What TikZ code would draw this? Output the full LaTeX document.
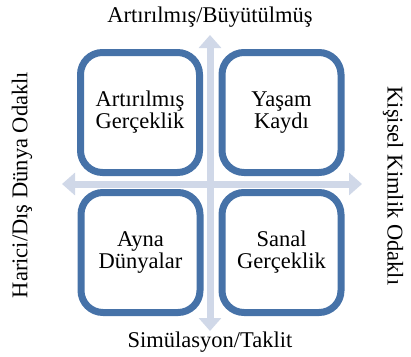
\documentclass[tikz,border=0pt]{standalone}
\usepackage{fontspec}
\setmainfont{Liberation Serif}
\usetikzlibrary{arrows.meta,shadows}
\definecolor{kutu}{RGB}{70,114,168}
\definecolor{eksen}{RGB}{208,216,232}

\begin{document}
\begin{tikzpicture}[x=1pt,y=-1pt,font=\fontsize{22.5}{22}\selectfont,
  quad/.style={draw=kutu,fill=white,line width=7pt,rounded corners=22pt,
    minimum width=119pt,minimum height=120pt,align=center,
    drop shadow={opacity=0.25,shadow xshift=1.5pt,shadow yshift=-1.5pt}},
  axis/.style={draw=eksen,line width=7pt,
    {Triangle[length=13pt,width=22pt]}-{Triangle[length=13pt,width=22pt]}}]
  \useasboundingbox (0,0) rectangle (411,356);
  % axes
  \coordinate (top) at (210,35);
  \coordinate (bot) at (210,331);
  \coordinate (lft) at (62,184);
  \coordinate (rgt) at (362,184);
  \draw[axis] (top)--(bot);
  \draw[axis] (lft)--(rgt);
  % quadrants
  \node[quad] (ag) at (140,112.5) {Artırılmış\\Gerçeklik};
  \node[quad] (yk) at (281.5,112.5) {Yaşam\\Kaydı};
  \node[quad] (ad) at (140.5,252.5) {Ayna\\Dünyalar};
  \node[quad] (sg) at (281.5,252.5) {Sanal\\Gerçeklik};
  % axis labels
  \node (ust) at (210,17) {Artırılmış/Büyütülmüş};
  \node (alt) at (210,342) {Simülasyon/Taklit};
  \node[rotate=90] (sol) at (22,185) {Harici/Dış Dünya Odaklı};
  \node[rotate=-90] (sag) at (393,186) {Kişisel Kimlik Odaklı};
\end{tikzpicture}
\end{document}
